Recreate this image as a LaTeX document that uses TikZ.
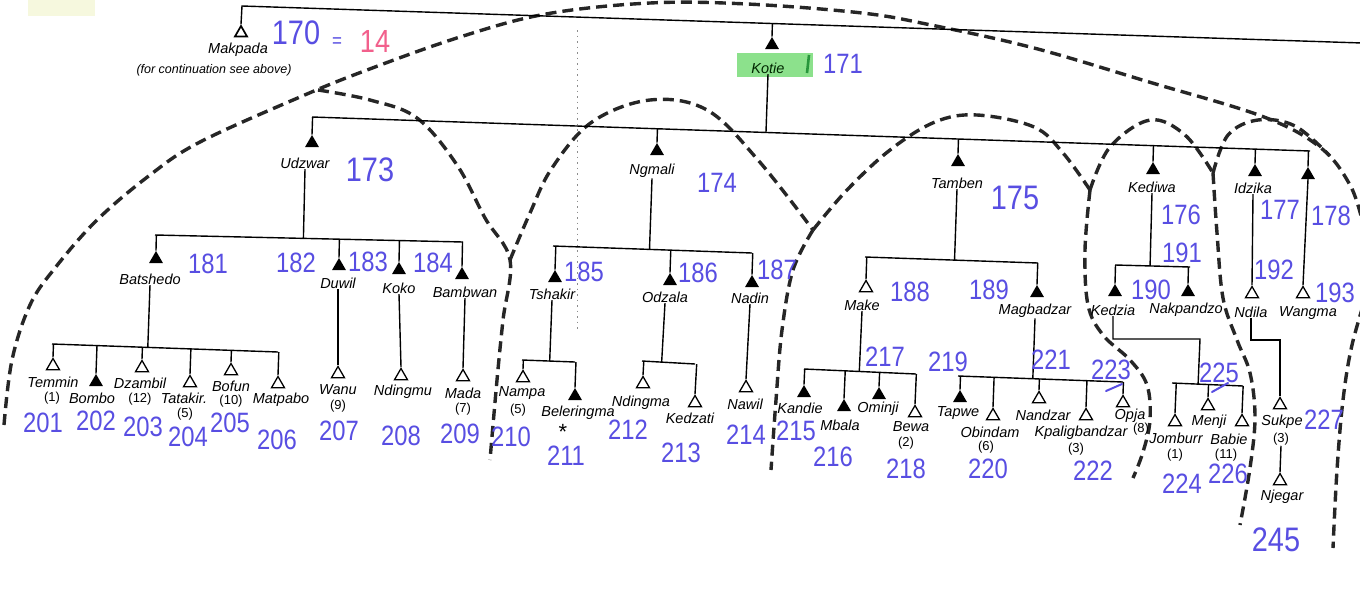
\documentclass[tikz,border=0pt]{standalone}
\usepackage{fontspec}
\usetikzlibrary{shapes.geometric,calc}
\newfontfamily\handfont{Liberation Sans}
\newfontfamily\inkfont{Liberation Sans}[FakeStretch=0.85]
\definecolor{ink}{RGB}{88,78,226}
\definecolor{pinkink}{RGB}{242,96,140}
\definecolor{hl}{RGB}{140,225,140}
\definecolor{hlmark}{RGB}{40,150,60}
\definecolor{smudge}{RGB}{246,248,222}
\newcommand{\kdrop}[3]{\draw[kin] (#1) -- ($(#2)!(#1)!(#3)$);}
\tikzset{
  ftri/.style={regular polygon, regular polygon sides=3, fill=black, inner sep=0pt, minimum size=16pt},
  otri/.style={regular polygon, regular polygon sides=3, draw=black, line width=1.3pt, inner sep=0pt, minimum size=15pt},
  lab/.style={font=\handfont\itshape\fontsize{14.5}{16}\selectfont, inner sep=0.5pt},
  cnt/.style={font=\handfont\fontsize{13}{14}\selectfont, inner sep=0.5pt},
  num/.style={font=\inkfont\fontsize{28}{30}\selectfont, text=ink, inner sep=0pt},
  bignum/.style={font=\inkfont\fontsize{34}{36}\selectfont, text=ink, inner sep=0pt},
  kin/.style={line width=1.4pt, black, line join=miter},
  grp/.style={line width=3.4pt, dash pattern=on 11pt off 6pt, black!85, smooth, tension=0.6},
}
\begin{document}
\begin{tikzpicture}[x=1pt,y=-1pt]
\fill[white] (0,0) rectangle (1360,611);
\useasboundingbox (0,0) rectangle (1360,611);
\fill[smudge] (28,0) rectangle (95,16);

% faint dotted guide
\draw[black!45, line width=0.8pt, dash pattern=on 1.5pt off 4pt] (577,30) -- (577,330);

% ---------- dashed group boundaries ----------
\draw[grp] plot coordinates {(4,425) (12,360) (30,305) (55,268) (97,220) (150,175) (200,142) (300,97) (367,70) (460,37) (546,14) (650,3) (747,4) (862,13) (931,25) (1034,48) (1149,82) (1264,117) (1321,148) (1350,185) (1362,220)};
\draw[grp] plot coordinates {(1368,290) (1352,345) (1343,400) (1337,470) (1333,548)};
\draw[grp] plot coordinates {(318,90) (370,100) (417,118) (457,165) (485,218) (510,260) (503,320) (497,380) (490,460)};
\draw[grp] plot coordinates {(510,260) (530,213) (552,168) (592,122) (650,100) (707,110) (758,160) (813,230)};
\draw[grp] plot coordinates {(813,230) (793,270) (782,330) (776,400) (771,470)};
\draw[grp] plot coordinates {(813,230) (847,190) (890,150) (935,122) (977,115) (1034,127) (1063,153) (1090,190)};
\draw[grp] plot coordinates {(1090,190) (1085,250) (1088,305) (1103,335) (1130,360) (1147,385) (1150,420) (1143,452) (1133,478)};
\draw[grp] plot coordinates {(1090,190) (1110,147) (1150,120) (1185,135) (1213,173)};
\draw[grp] plot coordinates {(1213,173) (1217,233) (1223,298) (1237,340) (1250,373) (1255,417) (1250,468) (1240,525)};
\draw[grp] plot coordinates {(1213,173) (1228,135) (1258,120) (1295,126) (1330,156)};

% ---------- top generation ----------
\coordinate (topL) at (242,6);
\coordinate (topR) at (1362,43);
\node[otri, line width=1.7pt, minimum size=14pt] (makpada) at (241,33) {};
\node[lab] (makpadaL) at (238,50) {Makpada};
\node[lab, font=\handfont\itshape\fontsize{12.5}{14}\selectfont] (makpadaN) at (214,70) {(for continuation see above)};
\node[bignum] (n170) at (296,33) {170};
\node[num, font=\inkfont\fontsize{20}{22}\selectfont] (eq) at (337,43) {=};
\node[num, font=\inkfont\fontsize{32}{34}\selectfont, text=pinkink] (n14) at (375,41) {14};
\draw[kin] (makpada.north) -- (topL) -- (topR);

\node[fill=hl, minimum width=76pt, minimum height=24pt, inner sep=0pt] (kotieHL) at (775,65) {};
\node[ftri] (kotie) at (772,45) {};
\node[lab, text=black!85!green] (kotieL) at (768,68) {Kotie};
\draw[hlmark, line width=2.6pt] (809,55) -- (807,73);
\node[num] (n171) at (843,64) {171};
\kdrop{kotie.north}{topL}{topR}

% ---------- Kotie's sons ----------
\coordinate (secL) at (312,117);
\coordinate (secR) at (1310,151);
\draw[kin] (secL) -- (secR);
\draw[kin] (kotieL.south) -- ($(secL)!(kotieL.south)!(secR)$);
\node[ftri] (udzwar) at (312,143) {};
\node[ftri] (ngmali) at (657,151) {};
\node[ftri] (tamben) at (958,162) {};
\node[ftri] (kediwa) at (1153,170) {};
\node[ftri] (idzika) at (1255,172) {};
\node[ftri] (p178) at (1308,175) {};
\foreach \n in {udzwar,ngmali,tamben,kediwa,idzika,p178} {\kdrop{\n.north}{secL}{secR}}
\node[lab] (udzwarL) at (305,163) {Udzwar};
\node[lab] (ngmaliL) at (652,171) {Ngmali};
\node[lab] (tambenL) at (957,183) {Tamben};
\node[lab] (kediwaL) at (1152,187) {Kediwa};
\node[lab] (idzikaL) at (1253,188) {Idzika};
\node[bignum] (n173) at (370,170) {173};
\node[num] (n174) at (717,183) {174};
\node[bignum] (n175) at (1015,198) {175};
\node[num] (n176) at (1181,215) {176};
\node[num] (n177) at (1280,210) {177};
\node[num] (n178) at (1331,216) {178};

% ---------- Udzwar ----------
\coordinate (uL) at (155,235);
\coordinate (uR) at (463,242);
\draw[kin] (uL) -- (uR);
\kdrop{udzwarL.south}{uL}{uR}
\node[ftri] (batshedo) at (156,259) {};
\node[ftri] (duwil) at (339,266) {};
\node[ftri] (koko) at (399,270) {};
\node[ftri] (bambwan) at (462,275) {};
\foreach \n in {batshedo,duwil,koko,bambwan} {\kdrop{\n.north}{uL}{uR}}
\node[lab] (batshedoL) at (150,279) {Batshedo};
\node[lab] (duwilL) at (338,283) {Duwil};
\node[lab] (kokoL) at (399,288) {Koko};
\node[lab] (bambwanL) at (465,292) {Bambwan};
\node[num] (n181) at (208,264) {181};
\node[num] (n182) at (296,263) {182};
\node[num] (n183) at (368,262) {183};
\node[num] (n184) at (433,263) {184};

% Batshedo's sons
\coordinate (bL) at (52,344);
\coordinate (bR) at (278,352);
\draw[kin] (bL) -- (bR);
\kdrop{batshedoL.south}{bL}{bR}
\node[otri] (temmin) at (53,366) {};
\node[ftri] (bombo) at (96,382) {};
\node[otri] (dzambil) at (142,368) {};
\node[otri] (tatakir) at (190,383) {};
\node[otri] (bofun) at (231,371) {};
\node[otri] (matpabo) at (278,384) {};
\foreach \n in {temmin,bombo,dzambil,tatakir,bofun,matpabo} {\kdrop{\n.north}{bL}{bR}}
\node[lab] (temminL) at (53,382) {Temmin};
\node[cnt] (temminC) at (52,398) {(1)};
\node[lab] (bomboL) at (92,398) {Bombo};
\node[cnt] (dzambilC) at (140,399) {(12)};
\node[lab] (dzambilL) at (140,383) {Dzambil};
\node[lab] (tatakirL) at (184,398) {Tatakir.};
\node[cnt] (tatakirC) at (185,414) {(5)};
\node[lab] (bofunL) at (231,386) {Bofun};
\node[cnt] (bofunC) at (231,401) {(10)};
\node[lab] (matpaboL) at (281,400) {Matpabo};
\node[num] (n201) at (43,423) {201};
\node[num] (n202) at (96,421) {202};
\node[num] (n203) at (143,427) {203};
\node[num] (n204) at (188,437) {204};
\node[num] (n205) at (230,423) {205};
\node[num] (n206) at (277,440) {206};

% Duwil, Koko, Bambwan sons
\node[otri] (wanu) at (338,374) {};
\node[lab] (wanuL) at (338,390) {Wanu};
\node[cnt] (wanuC) at (338,406) {(9)};
\draw[kin] (duwilL.south) -- (wanu.north);
\node[num] (n207) at (339,431) {207};
\node[otri] (ndingmu) at (401,376) {};
\node[lab] (ndingmuL) at (403,392) {Ndingmu};
\draw[kin] (kokoL.south) -- (ndingmu.north);
\node[num] (n208) at (401,436) {208};
\node[otri] (mada) at (463,377) {};
\node[lab] (madaL) at (463,393) {Mada};
\node[cnt] (madaC) at (463,409) {(7)};
\draw[kin] (bambwanL.south) -- (mada.north);
\node[num] (n209) at (460,434) {209};

% ---------- Ngmali ----------
\coordinate (nL) at (553,246);
\coordinate (nR) at (752,253);
\draw[kin] (nL) -- (nR);
\kdrop{ngmaliL.south}{nL}{nR}
\node[ftri] (tshakir) at (555,278) {};
\node[ftri] (odzala) at (670,281) {};
\node[ftri] (nadin) at (752,283) {};
\foreach \n in {tshakir,odzala,nadin} {\kdrop{\n.north}{nL}{nR}}
\node[lab] (tshakirL) at (552,294) {Tshakir};
\node[lab] (odzalaL) at (665,297) {Odzala};
\node[lab] (nadinL) at (750,298) {Nadin};
\node[num] (n185) at (584,272) {185};
\node[num] (n186) at (698,273) {186};
\node[num] (n187) at (777,270) {187};

\coordinate (tL) at (522,360);
\coordinate (tR) at (575,362);
\draw[kin] (tL) -- (tR);
\kdrop{tshakirL.south}{tL}{tR}
\node[otri] (nampa) at (523,378) {};
\node[ftri] (beleringma) at (575,396) {};
\foreach \n in {nampa,beleringma} {\kdrop{\n.north}{tL}{tR}}
\node[lab] (nampaL) at (522,393) {Nampa};
\node[cnt] (nampaC) at (518,410) {(5)};
\node[lab] (beleringmaL) at (578,413) {Beleringma};
\node[font=\handfont\fontsize{22}{22}\selectfont, inner sep=0pt] (star) at (563,432) {*};
\node[num] (n210) at (511,437) {210};
\node[num] (n211) at (566,456) {211};

\coordinate (oL) at (642,361);
\coordinate (oR) at (695,364);
\draw[kin] (oL) -- (oR);
\kdrop{odzalaL.south}{oL}{oR}
\node[otri] (ndingma) at (643,384) {};
\node[otri] (kedzati) at (695,403) {};
\foreach \n in {ndingma,kedzati} {\kdrop{\n.north}{oL}{oR}}
\node[lab] (ndingmaL) at (641,403) {Ndingma};
\node[lab] (kedzatiL) at (690,418) {Kedzati};
\node[num] (n212) at (628,430) {212};
\node[num] (n213) at (681,453) {213};

\node[otri] (nawil) at (746,388) {};
\node[lab] (nawilL) at (745,404) {Nawil};
\draw[kin] (nadinL.south) -- (nawil.north);
\node[num] (n214) at (746,435) {214};

% ---------- Tamben ----------
\coordinate (taL) at (865,257);
\coordinate (taR) at (1038,263);
\draw[kin] (taL) -- (taR);
\kdrop{tambenL.south}{taL}{taR}
\node[otri] (make) at (866,288) {};
\node[ftri] (magbadzar) at (1037,293) {};
\foreach \n in {make,magbadzar} {\kdrop{\n.north}{taL}{taR}}
\node[lab] (makeL) at (862,305) {Make};
\node[lab] (magbadzarL) at (1035,311) {Magbadzar};
\node[num] (n188) at (910,292) {188};
\node[num] (n189) at (989,290) {189};

\coordinate (mL) at (804,369);
\coordinate (mR) at (916,374);
\draw[kin] (mL) -- (mR);
\kdrop{makeL.south}{mL}{mR}
\node[ftri] (kandie) at (804,393) {};
\node[ftri] (mbala) at (844,407) {};
\node[ftri] (ominji) at (879,395) {};
\node[otri] (bewa) at (915,413) {};
\foreach \n in {kandie,mbala,ominji,bewa} {\kdrop{\n.north}{mL}{mR}}
\node[lab] (kandieL) at (800,408) {Kandie};
\node[lab] (mbalaL) at (840,425) {Mbala};
\node[lab] (ominjiL) at (878,409) {Ominji};
\node[lab] (bewaL) at (911,427) {Bewa};
\node[cnt] (bewaC) at (906,443) {(2)};
\node[num] (n217) at (885,357) {217};
\node[num] (n215) at (796,431) {215};
\node[num] (n216) at (833,457) {216};
\node[num] (n218) at (906,469) {218};

\coordinate (gL) at (958,376);
\coordinate (gR) at (1123,382);
\draw[kin] (gL) -- (gR);
\kdrop{magbadzarL.south}{gL}{gR}
\node[ftri] (tapwe) at (960,398) {};
\node[otri] (obindam) at (993,416) {};
\node[otri] (nandzar) at (1039,399) {};
\node[otri] (kpalig) at (1086,416) {};
\node[otri] (opja) at (1123,403) {};
\foreach \n in {tapwe,obindam,nandzar,kpalig,opja} {\kdrop{\n.north}{gL}{gR}}
\node[lab] (tapweL) at (958,413) {Tapwe};
\node[lab] (obindamL) at (990,432) {Obindam};
\node[cnt] (obindamC) at (986,447) {(6)};
\node[lab] (nandzarL) at (1043,415) {Nandzar};
\node[lab] (kpaligL) at (1081,433) {Kpaligbandzar};
\node[cnt] (kpaligC) at (1076,449) {(3)};
\node[lab] (opjaL) at (1130,416) {Opja};
\node[cnt] (opjaC) at (1141,429) {(8)};
\node[num] (n219) at (948,362) {219};
\node[num] (n221) at (1051,360) {221};
\node[num] (n223) at (1111,370) {223};
\draw[ink, line width=2pt, line cap=round] (1106,391) -- (1122,384);
\node[num] (n220) at (988,469) {220};
\node[num] (n222) at (1093,471) {222};

% ---------- Kediwa ----------
\coordinate (kL) at (1115,265);
\coordinate (kR) at (1190,267);
\draw[kin] (kL) -- (kR);
\kdrop{kediwaL.south}{kL}{kR}
\node[ftri] (kedzia) at (1115,292) {};
\node[ftri] (nakpandzo) at (1188,292) {};
\foreach \n in {kedzia,nakpandzo} {\kdrop{\n.north}{kL}{kR}}
\node[lab] (kedziaL) at (1113,310) {Kedzia};
\node[lab] (nakpandzoL) at (1186,310) {Nakpandzo};
\node[num] (n191) at (1182,253) {191};
\node[num] (n190) at (1151,290) {190};

\coordinate (jL) at (1172,383);
\coordinate (jR) at (1243,386);
\coordinate (kzC) at (1200,339);
\draw[kin] (jL) -- (jR);
\draw[kin] (kedziaL.south) |- (kzC) -- ($(jL)!(kzC)!(jR)$);
\node[otri] (jomburr) at (1175,422) {};
\node[otri] (menji) at (1208,406) {};
\node[otri] (babie) at (1242,422) {};
\foreach \n in {jomburr,menji,babie} {\kdrop{\n.north}{jL}{jR}}
\node[lab] (jomburrL) at (1176,438) {Jomburr};
\node[cnt] (jomburrC) at (1175,455) {(1)};
\node[lab] (menjiL) at (1209,422) {Menji};
\node[lab] (babieL) at (1229,439) {Babie};
\node[cnt] (babieC) at (1226,455) {(11)};
\node[num] (n225) at (1219,373) {225};
\draw[ink, line width=2pt, line cap=round] (1212,392) -- (1228,383);
\node[num] (n224) at (1182,484) {224};
\node[num] (n226) at (1228,474) {226};

% ---------- Idzika and 178 ----------
\node[otri] (ndila) at (1252,294) {};
\node[otri] (wangma) at (1303,294) {};
\draw[kin] (idzikaL.south) -- (ndila.north);
\draw[kin] (p178.south) -- (wangma.north);
\node[lab] (ndilaL) at (1251,312) {Ndila};
\node[lab] (wangmaL) at (1308,313) {Wangma};
\node[num] (n192) at (1274,270) {192};
\node[num] (n193) at (1335,293) {193};

\node[otri] (sukpe) at (1280,405) {};
\coordinate (ndC) at (1280,340);
\draw[kin] (ndilaL.south) |- (ndC) -- (sukpe.north);
\node[lab] (sukpeL) at (1282,422) {Sukpe};
\node[cnt] (sukpeC) at (1281,439) {(3)};
\node[num] (n227) at (1324,420) {227};
\node[otri] (njegar) at (1280,481) {};
\draw[kin] (sukpeC.south) -- (njegar.north);
\node[lab] (njegarL) at (1282,497) {Njegar};
\node[bignum] (n245) at (1276,540) {245};
\end{tikzpicture}
\end{document}
